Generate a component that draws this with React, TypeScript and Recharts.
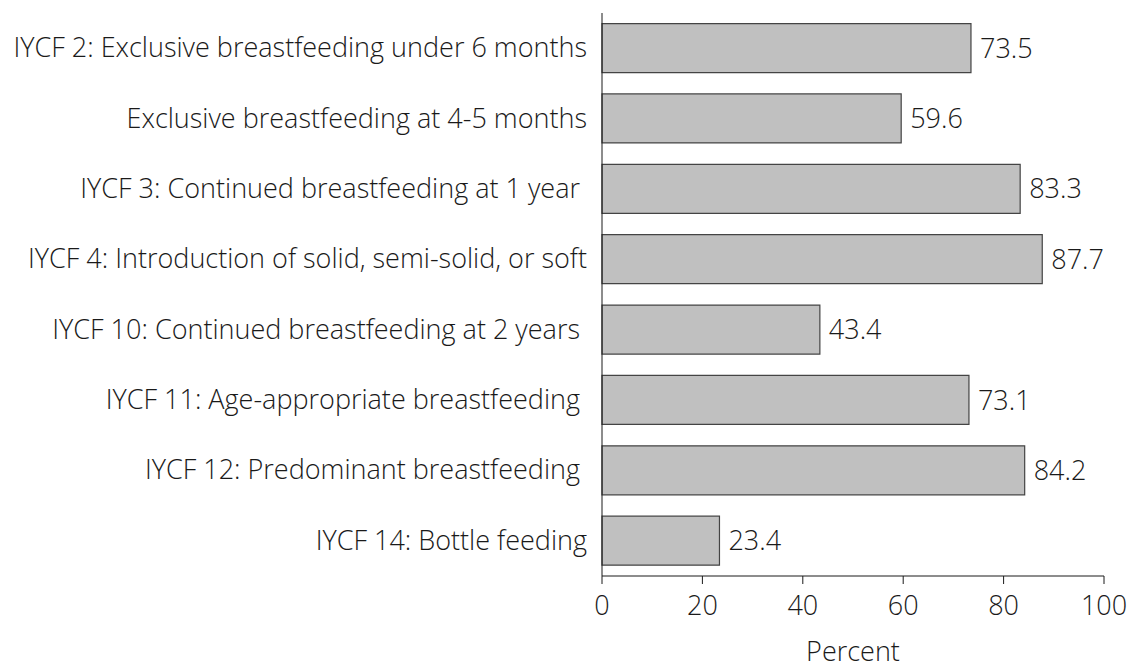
import { BarChart, Bar, XAxis, YAxis, LabelList } from "recharts";

const indicators = [
  "IYCF 2: Exclusive breastfeeding under 6 months",
  "Exclusive breastfeeding at 4-5 months",
  "IYCF 3: Continued breastfeeding at 1 year ",
  "IYCF 4: Introduction of solid, semi-solid, or soft",
  "IYCF 10: Continued breastfeeding at 2 years ",
  "IYCF 11: Age-appropriate breastfeeding ",
  "IYCF 12: Predominant breastfeeding ",
  "IYCF 14: Bottle feeding",
];
const percents = [73.5, 59.6, 83.3, 87.7, 43.4, 73.1, 84.2, 23.4];
const xTicks = [0, 20, 40, 60, 80, 100];

const data = indicators.map((name, i) => ({ name, value: percents[i] }));

const FONT = "'Open Sans', sans-serif";
const INK = "#1a1a1a";

const CategoryTick = (props: any) => {
  const { y, payload } = props;
  return (
    <text
      x={587}
      y={y}
      dy={9}
      textAnchor="end"
      fill={INK}
      fontSize={27}
      fontWeight={300}
      fontFamily={FONT}
      style={{ whiteSpace: "pre" }}
    >
      {payload.value}
    </text>
  );
};

const PercentTick = (props: any) => {
  const { x, y, payload } = props;
  return (
    <text x={x} y={y} dy={29} textAnchor="middle" fill={INK} fontSize={27} fontWeight={300} fontFamily={FONT}>
      {payload.value}
    </text>
  );
};

export default function App() {
  return (
    <div style={{ position: "absolute", left: 0, top: 0, background: "#fff" }}>
      <BarChart
        width={1131}
        height={664}
        data={data}
        layout="vertical"
        barCategoryGap="15%"
        margin={{ top: 13, right: 27, left: 0, bottom: 0 }}
      >
        <XAxis
          type="number"
          domain={[0, 100]}
          ticks={xTicks}
          height={88}
          stroke={INK}
          tickSize={8}
          tick={<PercentTick />}
          label={{ value: "Percent", position: "insideBottom", offset: 3, fill: INK, fontSize: 27, fontWeight: 300, fontFamily: FONT }}
        />
        <YAxis
          type="category"
          dataKey="name"
          width={602}
          stroke={INK}
          tickLine={false}
          interval={0}
          tick={<CategoryTick />}
        />
        <Bar dataKey="value" fill="#c0c0c0" stroke="#444" strokeWidth={1.2} isAnimationActive={false}>
          <LabelList
            dataKey="value"
            position="right"
            offset={9}
            fill={INK}
            fontSize={27}
            fontWeight={300}
            fontFamily={FONT}
            formatter={(v: any) => Number(v).toFixed(1)}
          />
        </Bar>
      </BarChart>
    </div>
  );
}
